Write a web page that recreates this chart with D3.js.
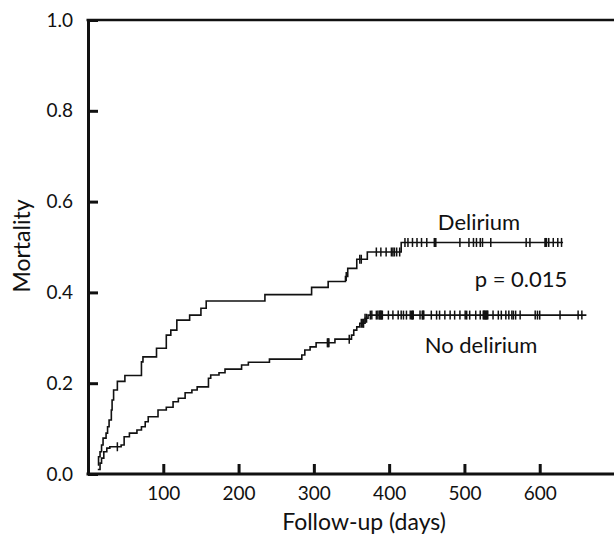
<!DOCTYPE html>
<html>
<head>
<meta charset="utf-8">
<script src="https://cdn.jsdelivr.net/npm/d3@7"></script>
<style>
  body { margin: 0; background: #fff; }
  text { font-family: Lato, "Open Sans", sans-serif; fill: #111; }
</style>
</head>
<body>
<script>
// delirium group: event times (days) and cumulative mortality after each step
var delTimes = [13, 14, 16, 18, 20, 24, 26, 28, 31, 32, 34, 39, 49, 71, 73, 91, 104, 110, 118, 135, 150, 157, 235, 297, 319, 342, 345, 357, 371, 416];
var delMort  = [0.020, 0.038, 0.049, 0.064, 0.079, 0.090, 0.104, 0.119, 0.141, 0.163, 0.185, 0.204, 0.217, 0.247, 0.258, 0.277, 0.306, 0.317, 0.339, 0.350, 0.365, 0.381, 0.395, 0.411, 0.424, 0.435, 0.453, 0.473, 0.489, 0.510];
var delEnd = 631;
var delCensor = [343, 361, 363, 383, 389, 396, 403, 405, 407, 410, 414, 421, 425, 431, 437, 443, 450, 460, 461, 462, 494, 506, 512, 516, 521, 524, 535, 582, 587, 607, 608, 609, 612, 618, 624, 629];

// no delirium group
var noTimes = [13, 16, 18, 21, 25, 29, 44, 48, 55, 65, 71, 76, 80, 93, 104, 113, 120, 129, 138, 145, 160, 163, 174, 182, 204, 213, 241, 284, 288, 295, 303, 328, 350, 353, 357, 361, 368, 372];
var noMort  = [0.010, 0.024, 0.035, 0.049, 0.057, 0.060, 0.064, 0.082, 0.090, 0.097, 0.104, 0.115, 0.126, 0.141, 0.147, 0.159, 0.167, 0.179, 0.185, 0.192, 0.211, 0.218, 0.223, 0.231, 0.240, 0.246, 0.253, 0.262, 0.273, 0.280, 0.289, 0.297, 0.306, 0.317, 0.324, 0.332, 0.343, 0.350];
var noEnd = 662;
var noCensor = [39, 318, 319, 320, 347, 363, 365, 366, 368, 370, 375, 377, 383, 385, 387, 388, 389, 390, 391, 399, 405, 412, 416, 419, 423, 428, 430, 431, 432, 441, 444, 445, 446, 456, 463, 467, 474, 481, 487, 494, 501, 503, 507, 515, 521, 525, 526, 527, 528, 529, 530, 531, 538, 545, 549, 555, 559, 563, 565, 568, 574, 594, 597, 600, 627, 651, 656];

var xTicks = [100, 200, 300, 400, 500, 600];
var yTicks = [0, 0.2, 0.4, 0.6, 0.8, 1.0];

var W = 614, H = 534;

var svg = d3.select("body")
            .append("svg")
            .attr("width", W)
            .attr("height", H);

var x = d3.scaleLinear().domain([0, 700]).range([88, 615]);
var y = d3.scaleLinear().domain([0, 1]).range([474, 20]);

// frame: top line
svg.append("line")
   .attr("x1", x(0) - 1.5)
   .attr("x2", W + 10)
   .attr("y1", y(1))
   .attr("y2", y(1))
   .attr("stroke", "#111")
   .attr("stroke-width", 2.5);

var yAxis = svg.append("g")
               .attr("transform", "translate(" + x(0) + ",0)")
               .call(d3.axisLeft(y)
                        .tickValues(yTicks)
                        .tickFormat(d3.format(".1f"))
                        .tickSizeInner(-10)
                        .tickSizeOuter(0)
                        .tickPadding(15));

var xAxis = svg.append("g")
               .attr("transform", "translate(0," + y(0) + ")")
               .call(d3.axisBottom(x)
                        .tickValues(xTicks)
                        .tickSizeInner(-10)
                        .tickSizeOuter(0)
                        .tickPadding(13));

[yAxis, xAxis].forEach(function(g){
  g.select(".domain").attr("stroke", "#111").attr("stroke-width", 3);
  g.selectAll(".tick line").attr("stroke", "#111").attr("stroke-width", 3);
  g.selectAll(".tick text")
   .style("font-size", "19px")
   .attr("fill", "#111");
});
xAxis.select(".domain").attr("d", "M" + (x(0) - 1.5) + ",0H" + (W + 10));

function drawCurve(times, mort, end, censor) {
  var pts = times.map(function(t, i){ return [t, mort[i]]; });
  pts.push([end, mort[mort.length - 1]]);
  var line = d3.line()
               .x(function(d){ return x(d[0]); })
               .y(function(d){ return y(d[1]); })
               .curve(d3.curveStepAfter);
  svg.append("path")
     .datum(pts)
     .attr("d", line)
     .attr("fill", "none")
     .attr("stroke", "#111")
     .attr("stroke-width", 1.6);

  function valueAt(t) {
    var v = mort[0];
    for (var i = 0; i < times.length; i++) {
      if (times[i] <= t) v = mort[i];
    }
    return v;
  }
  svg.append("g")
     .selectAll("line")
     .data(censor)
     .enter()
     .append("line")
     .attr("x1", function(d){ return x(d); })
     .attr("x2", function(d){ return x(d); })
     .attr("y1", function(d){ return y(valueAt(d)) - 4.5; })
     .attr("y2", function(d){ return y(valueAt(d)) + 4.5; })
     .attr("stroke", "#111")
     .attr("stroke-width", 1.5);
}

drawCurve(delTimes, delMort, delEnd, delCensor);
drawCurve(noTimes, noMort, noEnd, noCensor);

// labels
svg.append("text")
   .attr("x", 479)
   .attr("y", 230)
   .attr("text-anchor", "middle")
   .style("font-size", "22px")
   .text("Delirium");

svg.append("text")
   .attr("x", 521)
   .attr("y", 287)
   .attr("text-anchor", "middle")
   .style("font-size", "22px")
   .text("p = 0.015");

svg.append("text")
   .attr("x", 481)
   .attr("y", 353)
   .attr("text-anchor", "middle")
   .style("font-size", "22px")
   .text("No delirium");

svg.append("text")
   .attr("x", 364)
   .attr("y", 530)
   .attr("text-anchor", "middle")
   .style("font-size", "23px")
   .text("Follow-up (days)");

svg.append("text")
   .attr("transform", "translate(30,246) rotate(-90)")
   .attr("text-anchor", "middle")
   .style("font-size", "23px")
   .text("Mortality");
</script>
</body>
</html>
